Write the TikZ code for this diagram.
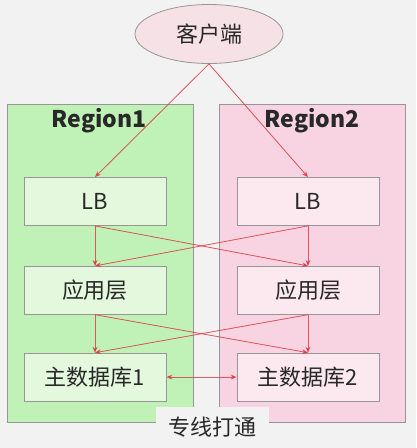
\documentclass[tikz,border=0pt]{standalone}
\usepackage{fontspec}
\setmainfont{Noto Sans CJK SC}
\usepackage{tikz}
\usetikzlibrary{arrows.meta, positioning, shapes.geometric}
\definecolor{bgcolor}{RGB}{242,242,242}
\definecolor{greenregion}{RGB}{192,242,184}
\definecolor{pinkregion}{RGB}{248,212,226}
\definecolor{greenbox}{RGB}{227,248,221}
\definecolor{pinkbox}{RGB}{252,232,239}
\definecolor{clientfill}{RGB}{245,225,230}
\definecolor{linkred}{RGB}{222,60,70}
\definecolor{bordergray}{RGB}{150,150,150}
\definecolor{textgray}{RGB}{40,40,40}

\begin{document}
\begin{tikzpicture}[
    x=1pt, y=-1pt,
    font=\fontsize{22}{26}\selectfont,
    text=textgray,
    >={Stealth[length=6pt, width=5pt]},
    region_node/.style={draw=bordergray, line width=0.8pt, minimum width=186pt, minimum height=318pt},
    left_node/.style={draw=bordergray, fill=greenbox, line width=0.8pt, minimum width=142pt, minimum height=48pt},
    right_node/.style={draw=bordergray, fill=pinkbox, line width=0.8pt, minimum width=142pt, minimum height=48pt},
    client_node/.style={ellipse, draw=bordergray, fill=clientfill, line width=0.8pt, minimum width=148pt, minimum height=59pt},
    arrow/.style={->, line width=0.8pt, draw=linkred, draw opacity=0.8, fill=linkred}
]

% Background
\fill[bgcolor] (0,0) rectangle (416,448);

% Regions
\node[region_node, fill=greenregion] (r1) at (100,263) {};
\node[region_node, fill=pinkregion] (r2) at (312.5,263) {};
\node[font=\fontsize{23}{27}\selectfont\bfseries] (r1title) at (99,121) {Region1};
\node[font=\fontsize{23}{27}\selectfont\bfseries] (r2title) at (312,121) {Region2};

% Client
\node[client_node] (client) at (209,34) {客户端};

% Region1 Column
\node[left_node] (lb1) at (95,201.5) {LB};
\node[left_node, below=40pt of lb1] (app1) {应用层};
\node[left_node, below=38pt of app1] (db1) {主数据库1};

% Region2 Column
\node[right_node] (lb2) at (308,201.5) {LB};
\node[right_node, below=40pt of lb2] (app2) {应用层};
\node[right_node, below=38pt of app2] (db2) {主数据库2};

% Link label
\node[fill=bgcolor, minimum width=113pt, minimum height=40pt] (link) at (212.5,427) {专线打通};

% Client -> LB
\draw[arrow] (client.south) -- (lb1.north);
\draw[arrow] (client.south) -- (lb2.north);

% LB -> App
\draw[arrow] (lb1.south) -- (app1.north);
\draw[arrow] (lb1.south) -- (app2.north);
\draw[arrow] (lb2.south) -- (app1.north);
\draw[arrow] (lb2.south) -- (app2.north);

% App -> DB
\draw[arrow] (app1.south) -- (db1.north);
\draw[arrow] (app1.south) -- (db2.north);
\draw[arrow] (app2.south) -- (db1.north);
\draw[arrow] (app2.south) -- (db2.north);

% DB <-> DB
\draw[arrow, <->] (db1.east) -- (db2.west);

\end{tikzpicture}
\end{document}
